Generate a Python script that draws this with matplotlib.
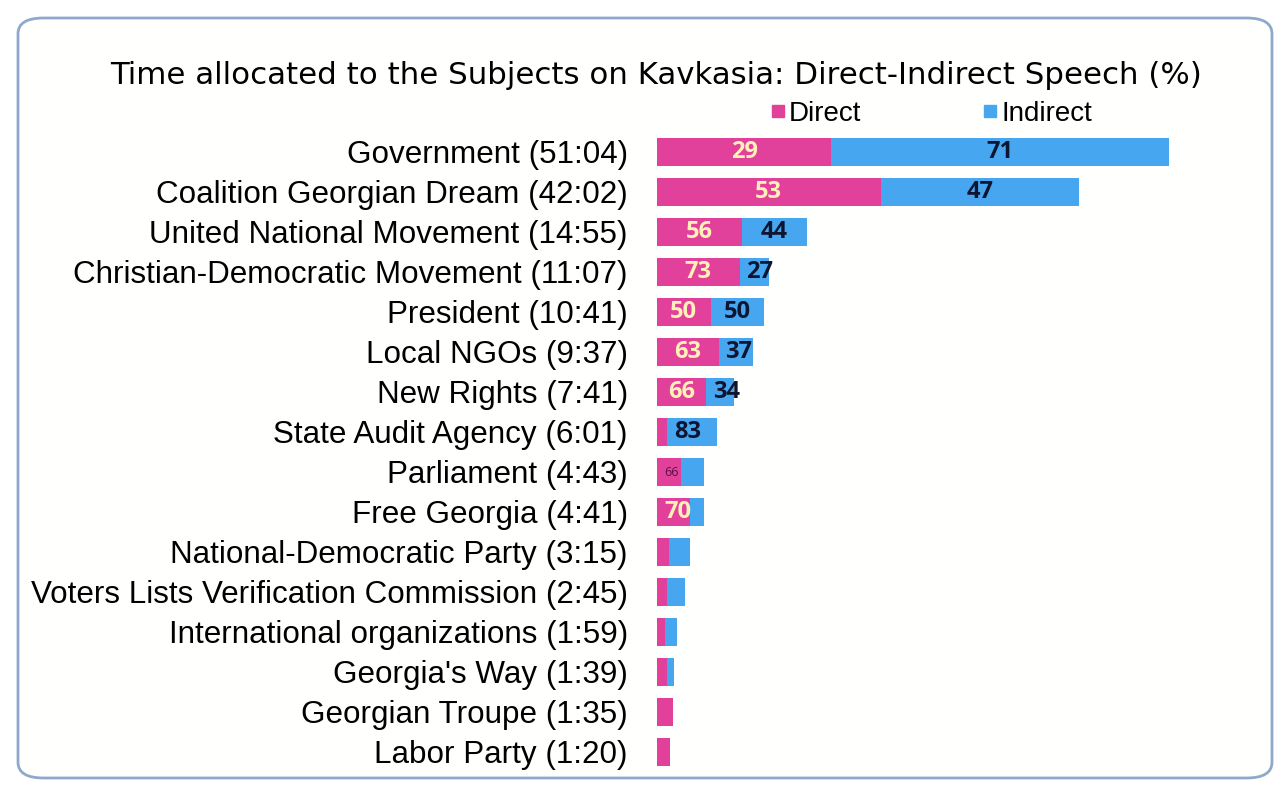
import matplotlib.pyplot as plt
from matplotlib.patches import FancyBboxPatch
from matplotlib.lines import Line2D

subjects = ["Government", "Coalition Georgian Dream", "United National Movement",
            "Christian-Democratic Movement", "President", "Local NGOs", "New Rights",
            "State Audit Agency", "Parliament", "Free Georgia", "National-Democratic Party",
            "Voters Lists Verification Commission", "International organizations",
            "Georgia's Way", "Georgian Troupe", "Labor Party"]
durations = ["51:04", "42:02", "14:55", "11:07", "10:41", "9:37", "7:41", "6:01",
             "4:43", "4:41", "3:15", "2:45", "1:59", "1:39", "1:35", "1:20"]
# share of direct speech as drawn (%)
direct_share = [34, 53, 57, 74, 50, 64, 64, 17, 51, 71, 38, 38, 38, 60, 100, 100]
direct_labels = ["29", "53", "56", "73", "50", "63", "66", "", "66", "70", "", "", "", "", "", ""]
indirect_labels = ["71", "47", "44", "27", "50", "37", "34", "83", "", "", "", "", "", "", "", ""]

pink = "#E2419B"
blue = "#47A6F0"

minutes = [int(d.split(":")[0]) + int(d.split(":")[1]) / 60 for d in durations]
direct = [m * s / 100 for m, s in zip(minutes, direct_share)]
indirect = [m - d for m, d in zip(minutes, direct)]

fig = plt.figure(figsize=(12.8, 7.88), dpi=100)
fig.patch.set_facecolor("white")

frame = FancyBboxPatch((18 / 1280, 10 / 788), 1254 / 1280, 760 / 788,
                       boxstyle="round,pad=0,rounding_size=0.02",
                       transform=fig.transFigure, facecolor="#FFFFFD",
                       edgecolor="#8FA9CC", linewidth=2, zorder=-10)
fig.patches.append(frame)

ax = fig.add_axes([657 / 1280, 1 - 772 / 788, 602 / 1280, 640 / 788])
ax.set_facecolor("none")
y = list(range(len(subjects)))
ax.barh(y, direct, height=0.7, color=pink)
ax.barh(y, indirect, left=direct, height=0.7, color=blue)

for i in y:
    if direct_labels[i]:
        if subjects[i] == "Parliament":
            ax.text(direct[i] / 2 + 0.2, i, direct_labels[i], ha="center", va="center",
                    fontsize=9, color="#5A1040", family="Open Sans")
        else:
            ax.text(max(direct[i] / 2, 2.1), i, direct_labels[i], ha="center", va="center",
                    fontsize=17, fontweight="bold", color="#FFF1B8", family="Open Sans")
    if indirect_labels[i]:
        cx = direct[i] + indirect[i] / 2
        if indirect[i] < 5:
            cx = direct[i] + 2.0
        ax.text(cx, i, indirect_labels[i], ha="center", va="center",
                fontsize=17, fontweight="bold", color="#0E1530", family="Open Sans")

ax.set_ylim(len(subjects) - 0.5, -0.5)
ax.set_xlim(0, 60)
ax.set_yticks(y)
ax.set_yticklabels([f"{s} ({d})" for s, d in zip(subjects, durations)],
                   fontsize=22.6, family="Liberation Sans")
ax.tick_params(axis="y", length=0, pad=21)
ax.set_xticks([])
for sp in ax.spines.values():
    sp.set_visible(False)

fig.text(0.5 + 16 / 1280, 1 - 75 / 788,
         "Time allocated to the Subjects on Kavkasia: Direct-Indirect Speech (%)",
         ha="center", va="center", fontsize=22.2, family="DejaVu Sans")

handles = [Line2D([], [], marker="s", linestyle="none", markersize=8, color=pink),
           Line2D([], [], marker="s", linestyle="none", markersize=8, color=blue)]
fig.legend(handles, ["Direct", "Indirect"], loc="center left",
           bbox_to_anchor=(768 / 1280, 1 - 114 / 788), ncol=2, frameon=False,
           prop={"family": "Liberation Sans", "size": 20}, handletextpad=0.05,
           columnspacing=4.3, handlelength=0.7, borderaxespad=0, borderpad=0)

fig.savefig("out.png", dpi=100)
